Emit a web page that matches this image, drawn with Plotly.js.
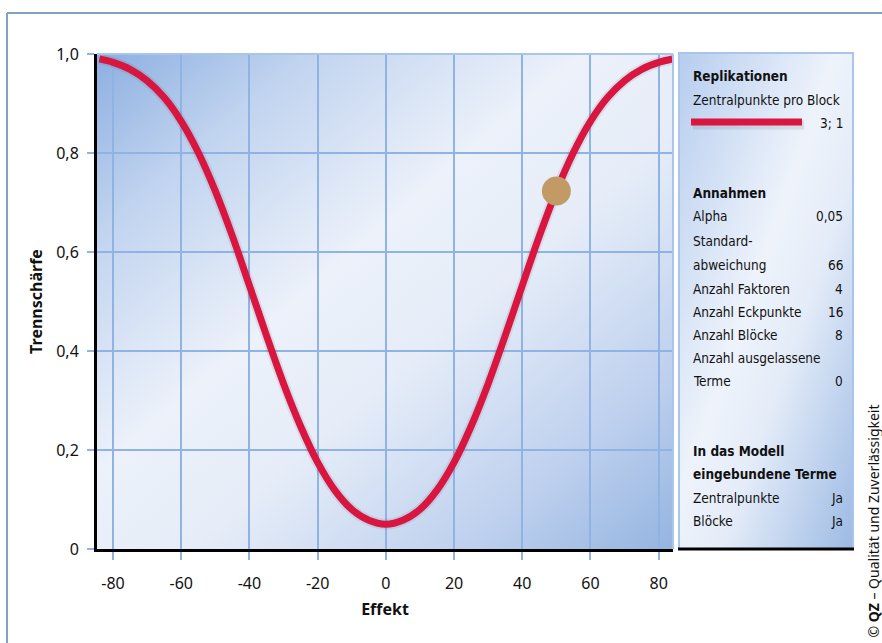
<!DOCTYPE html>
<html>
<head>
<meta charset="utf-8">
<script src="https://cdn.plot.ly/plotly-3.0.1.min.js"></script>
<style>
  html, body { margin: 0; padding: 0; background: #ffffff; }
  #chart { width: 882px; height: 643px; }
</style>
</head>
<body>
<div id="chart"></div>
<script>
// ---------- DATA ----------
const effekt = [-84, -80, -75, -70, -65, -60, -55, -50, -45, -40, -35, -30, -25, -20, -15, -10, -5, 0,
                5, 10, 15, 20, 25, 30, 35, 40, 45, 50, 55, 60, 65, 70, 75, 80, 84];
const trennschaerfe = [0.990, 0.983, 0.969, 0.946, 0.912, 0.864, 0.801, 0.723, 0.632, 0.532, 0.431, 0.334, 0.248, 0.175, 0.119, 0.080, 0.058, 0.050,
                       0.058, 0.080, 0.119, 0.175, 0.248, 0.334, 0.431, 0.532, 0.632, 0.723, 0.801, 0.864, 0.912, 0.946, 0.969, 0.983, 0.990];
const pointEffekt = [50];
const pointTrennschaerfe = [0.723];

const xTickVals = [-80, -60, -40, -20, 0, 20, 40, 60, 80];
const xTickText = ["-80", "-60", "-40", "-20", "0", "20", "40", "60", "80"];
const yTickVals = [0, 0.2, 0.4, 0.6, 0.8, 1.0];
const yTickText = ["0", "0,2", "0,4", "0,6", "0,8", "1,0"];

const xTitle = "Effekt";
const yTitle = "Trennschärfe";

const legendHeader = "Replikationen";
const legendSub = "Zentralpunkte pro Block";
const legendValue = "3; 1";

const panelLabels = ["Annahmen", "Alpha", "Standard-", "abweichung", "Anzahl Faktoren", "Anzahl Eckpunkte",
                     "Anzahl Blöcke", "Anzahl ausgelassene", "Terme",
                     "In das Modell", "eingebundene Terme", "Zentralpunkte", "Blöcke"];
const panelValues = ["", "0,05", "", "66", "4", "16", "8", "", "0", "", "", "Ja", "Ja"];

const copyrightText = "© <b>QZ</b> – Qualität und Zuverlässigkeit";

// ---------- LAYOUT GEOMETRY ----------
const W = 882, H = 643;
const M = { l: 97, r: 209, t: 54, b: 94 };
const PW = W - M.l - M.r, PH = H - M.t - M.b;
const px = (p) => (p - M.l) / PW;           // pixel x -> paper
const py = (p) => (H - M.b - p) / PH;        // pixel y -> paper

const RED = "#d8163f";
const GRID = "#8fb3e3";
const FONT = "Noto Sans, Open Sans, DejaVu Sans, sans-serif";
const NARROW = "Liberation Sans Narrow, DejaVu Sans Condensed, Roboto Condensed, Roboto, sans-serif";

function gradSvg(stops) {
  const s = stops.map(([o, c]) => `<stop offset='${o}' stop-color='${c}'/>`).join("");
  const svg = `<svg xmlns='http://www.w3.org/2000/svg' width='100' height='100' preserveAspectRatio='none'>` +
    `<defs><linearGradient id='g' x1='0' y1='0' x2='1' y2='1'>${s}</linearGradient></defs>` +
    `<rect width='100' height='100' fill='url(#g)'/></svg>`;
  return "data:image/svg+xml;charset=utf-8," + encodeURIComponent(svg);
}

const plotGrad = gradSvg([[0, "#8cafe0"], [0.18, "#c0d3ef"], [0.42, "#ecf1fa"], [0.58, "#e6edf8"], [0.82, "#bed0ee"], [1, "#94b4e0"]]);
const panelGrad = gradSvg([[0, "#b6cdee"], [0.45, "#eef3fb"], [0.62, "#e4ecf8"], [1, "#9cbae4"]]);

// panel geometry
const panelL = 679, panelR = 853, panelT = 53, panelB = 549;
const textL = 691, textR = 845;
const rowY = [193, 216, 241, 265, 289, 312, 335, 358, 381, 451, 474, 498, 521];
const rowBold = [true, false, false, false, false, false, false, false, false, true, true, false, false];
const PSIZE = 13.5;

const annotations = [];
function addText(text, xPix, yPix, anchor, bold, size, family) {
  annotations.push({
    xref: "paper", yref: "paper", x: px(xPix), y: py(yPix),
    xanchor: anchor, yanchor: "middle", showarrow: false,
    text: bold ? "<b>" + text + "</b>" : text,
    font: { family: family || NARROW, size: size || PSIZE, color: "#111111" }
  });
}
addText(legendHeader, textL, 76, "left", true);
addText(legendSub, textL, 100, "left", false);
addText(legendValue, textR, 123, "right", false);
panelLabels.forEach((t, i) => addText(t, textL, rowY[i], "left", rowBold[i]));
panelValues.forEach((t, i) => { if (t) addText(t, textR, rowY[i], "right", false); });

annotations.push({
  xref: "paper", yref: "paper", x: px(873), y: py(640),
  xanchor: "center", yanchor: "bottom", showarrow: false, textangle: -90,
  text: copyrightText, font: { family: FONT, size: 14, color: "#111111" }
});

const shapes = [
  // outer frame
  { type: "line", xref: "paper", yref: "paper", x0: px(7), x1: px(7), y0: py(13), y1: py(700), line: { color: "#7fa3c0", width: 2 } },
  { type: "line", xref: "paper", yref: "paper", x0: px(7), x1: px(900), y0: py(13), y1: py(13), line: { color: "#7fa3c0", width: 2 } },
  // plot top & right border
  { type: "line", xref: "paper", yref: "paper", x0: 0, x1: 1, y0: 1, y1: 1, line: { color: "#a9c5ec", width: 2 } },
  { type: "line", xref: "paper", yref: "paper", x0: 1, x1: 1, y0: 0, y1: 1, line: { color: "#a9c5ec", width: 2 } },
  // panel border
  { type: "rect", xref: "paper", yref: "paper", x0: px(panelL), x1: px(panelR), y0: py(panelB), y1: py(panelT), line: { color: "#a9c5ec", width: 2 } },
  { type: "line", xref: "paper", yref: "paper", x0: px(panelL - 1), x1: px(panelR + 1), y0: py(panelB), y1: py(panelB), line: { color: "#000000", width: 3 } },
  // legend line (shadow + line)
  { type: "line", xref: "paper", yref: "paper", x0: px(693), x1: px(804), y0: py(125), y1: py(125), line: { color: "rgba(60,70,90,0.12)", width: 9 } },
  { type: "line", xref: "paper", yref: "paper", x0: px(691), x1: px(802), y0: py(122), y1: py(122), line: { color: RED, width: 7 } }
];

const images = [
  { source: plotGrad, xref: "paper", yref: "paper", x: 0, y: 1, sizex: 1, sizey: 1, sizing: "stretch", layer: "below", xanchor: "left", yanchor: "top" },
  { source: panelGrad, xref: "paper", yref: "paper", x: px(panelL), y: py(panelT), sizex: px(panelR) - px(panelL), sizey: py(panelT) - py(panelB), sizing: "stretch", layer: "below", xanchor: "left", yanchor: "top" }
];

const traces = [
  { x: effekt, y: trennschaerfe, mode: "lines", line: { color: "rgba(60,70,90,0.10)", width: 11, shape: "spline" }, hoverinfo: "skip", showlegend: false, cliponaxis: false },
  { x: effekt, y: trennschaerfe, mode: "lines", line: { color: RED, width: 7, shape: "spline" }, showlegend: false, cliponaxis: false },
  { x: pointEffekt, y: pointTrennschaerfe, mode: "markers", marker: { color: "#c19a66", size: 29, line: { width: 0 } }, showlegend: false, cliponaxis: false }
];

const layout = {
  width: W, height: H,
  margin: M,
  paper_bgcolor: "#ffffff",
  plot_bgcolor: "rgba(0,0,0,0)",
  showlegend: false,
  font: { family: FONT, size: 16, color: "#111111" },
  xaxis: {
    range: [-84.7, 84.2], tickvals: xTickVals, ticktext: xTickText,
    showgrid: true, gridcolor: GRID, gridwidth: 2, zeroline: false,
    showline: true, linecolor: "#000000", linewidth: 3,
    ticks: "outside", ticklen: 8, tickwidth: 2, tickcolor: GRID,
    ticklabelstandoff: 10,
    tickfont: { family: FONT, size: 16, color: "#111111" },
    title: { text: "<b>" + xTitle + "</b>", font: { family: FONT, size: 16, color: "#111111" }, standoff: 11 },
    fixedrange: true
  },
  yaxis: {
    range: [0, 1.0], tickvals: yTickVals, ticktext: yTickText,
    showgrid: true, gridcolor: GRID, gridwidth: 2, zeroline: false,
    showline: true, linecolor: "#000000", linewidth: 3,
    ticks: "outside", ticklen: 7, tickwidth: 2, tickcolor: GRID,
    ticklabelstandoff: 5,
    tickfont: { family: FONT, size: 16, color: "#111111" },
    title: { text: "<b>" + yTitle + "</b>", font: { family: FONT, size: 16, color: "#111111" }, standoff: 10 },
    fixedrange: true
  },
  shapes: shapes,
  images: images,
  annotations: annotations
};

Plotly.newPlot("chart", traces, layout, { displayModeBar: false, staticPlot: true });
</script>
</body>
</html>
